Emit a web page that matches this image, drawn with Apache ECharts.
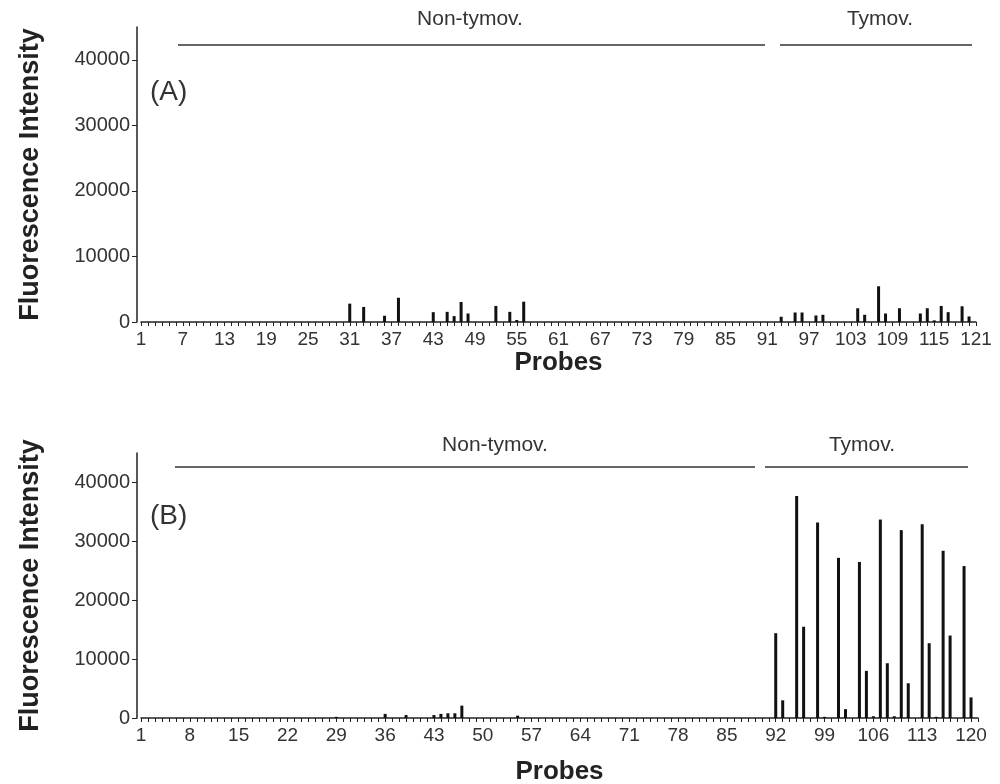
<!DOCTYPE html>
<html>
<head>
<meta charset="utf-8">
<script src="https://cdn.jsdelivr.net/npm/echarts@6/dist/echarts.min.js"></script>
<style>
  html, body { margin: 0; padding: 0; background: #fff; }
  #chart { width: 1000px; height: 784px; }
</style>
</head>
<body>
<div id="chart"></div>
<script>
// probes 1..121
var probes = [];
for (var i = 1; i <= 121; i++) probes.push(String(i));

var yTicks = [0, 10000, 20000, 30000, 40000];

// panel A, one value per probe (rows of 10)
var intensityA = [
    0, 0, 0, 0, 0, 0, 0, 0, 0, 0,
    0, 0, 0, 0, 0, 0, 0, 0, 0, 0,
    0, 0, 0, 0, 0, 0, 0, 0, 0, 0,
    2800, 0, 2300, 0, 0, 950, 0, 3700, 0, 0,
    0, 0, 1500, 0, 1550, 900, 3050, 1300, 0, 0,
    0, 2450, 0, 1550, 300, 3100, 0, 0, 0, 0,
    0, 0, 0, 0, 0, 0, 0, 0, 0, 0,
    0, 0, 0, 0, 0, 0, 0, 0, 0, 0,
    0, 0, 0, 0, 0, 0, 0, 0, 0, 0,
    0, 0, 800, 0, 1450, 1450, 0, 1000, 1100, 0,
    0, 0, 0, 2100, 1100, 0, 5450, 1300, 0, 2100,
    0, 0, 1300, 2100, 250, 2450, 1500, 0, 2400, 850,
    0
];

// panel B
var intensityB = [
    0, 0, 0, 0, 0, 0, 0, 0, 0, 0,
    0, 0, 0, 0, 0, 0, 0, 0, 0, 0,
    0, 0, 0, 0, 0, 0, 0, 0, 200, 0,
    0, 0, 0, 0, 0, 700, 0, 0, 500, 0,
    0, 0, 500, 700, 800, 800, 2100, 0, 0, 0,
    0, 0, 0, 0, 400, 0, 0, 0, 0, 0,
    0, 0, 0, 0, 0, 0, 0, 0, 0, 0,
    0, 0, 0, 0, 0, 0, 0, 0, 0, 0,
    0, 0, 0, 0, 0, 0, 0, 0, 0, 0,
    0, 14400, 3000, 0, 37700, 15500, 0, 33200, 200, 0,
    27200, 1500, 0, 26500, 8000, 300, 33700, 9300, 300, 31900,
    5900, 0, 32900, 12700, 200, 28400, 14000, 0, 25800, 3500,
    0
];

var FONT = "'Liberation Sans', Arial, sans-serif";
var INK = '#222';

function xAxisOf(gridIndex, labelEvery, nameGap) {
    return {
        type: 'category',
        gridIndex: gridIndex,
        data: probes,
        boundaryGap: false,
        axisLine: { lineStyle: { color: INK, width: 1.5 } },
        axisTick: { interval: 0, length: 4, lineStyle: { color: INK } },
        axisLabel: { interval: labelEvery - 1, fontSize: 19, color: '#333', fontFamily: FONT, margin: 8 },
        name: 'Probes',
        nameLocation: 'middle',
        nameGap: nameGap,
        nameTextStyle: { fontSize: 26, fontWeight: 'bold', color: INK, fontFamily: FONT }
    };
}

function yAxisOf(gridIndex) {
    return {
        type: 'value',
        gridIndex: gridIndex,
        min: 0,
        max: 45000,
        offset: 4,
        splitLine: { show: false },
        axisLine: { show: true, lineStyle: { color: INK, width: 1.5 } },
        axisTick: { show: true, length: 5, customValues: yTicks, lineStyle: { color: INK } },
        axisLabel: {
            customValues: yTicks, fontSize: 20, color: '#333', fontFamily: FONT, margin: 7,
            formatter: function (v) { return String(v); }
        },
        name: 'Fluorescence Intensity',
        nameLocation: 'middle',
        nameGap: 93,
        nameTextStyle: { fontSize: 27, fontWeight: 'bold', color: INK, fontFamily: FONT }
    };
}

function barSeries(idx, values) {
    return {
        type: 'bar',
        xAxisIndex: idx,
        yAxisIndex: idx,
        data: values,
        barWidth: 3,
        itemStyle: { color: '#111' },
        silent: true
    };
}

function groupText(cx, top, text) {
    return {
        type: 'text', x: cx, y: top,
        style: { text: text, fontSize: 21, fill: '#333', fontFamily: FONT, align: 'center' }
    };
}
function groupLine(x1, x2, y) {
    return {
        type: 'line',
        shape: { x1: x1, y1: y, x2: x2, y2: y },
        style: { stroke: '#333', lineWidth: 1.5 }
    };
}

var myChart = echarts.init(document.getElementById('chart'));
var option = {
    backgroundColor: '#fff',
    animation: false,
    grid: [
        { left: 141, right: 24, top: 27, height: 295, outerBoundsMode: 'none' },
        { left: 141, right: 22, top: 453, height: 265, outerBoundsMode: 'none' }
    ],
    xAxis: [xAxisOf(0, 6, 27), xAxisOf(1, 7, 41)],
    yAxis: [yAxisOf(0), yAxisOf(1)],
    series: [barSeries(0, intensityA), barSeries(1, intensityB)],
    graphic: [
        { type: 'text', left: 150, top: 78, style: { text: '(A)', fontSize: 28, fill: '#333', fontFamily: FONT } },
        { type: 'text', left: 150, top: 502, style: { text: '(B)', fontSize: 28, fill: '#333', fontFamily: FONT } },
        groupText(470, 9, 'Non-tymov.'),
        groupText(880, 9, 'Tymov.'),
        groupLine(178, 765, 45),
        groupLine(780, 972, 45),
        groupText(495, 435, 'Non-tymov.'),
        groupText(862, 435, 'Tymov.'),
        groupLine(175, 755, 467),
        groupLine(765, 968, 467)
    ]
};
myChart.setOption(option);
</script>
</body>
</html>
